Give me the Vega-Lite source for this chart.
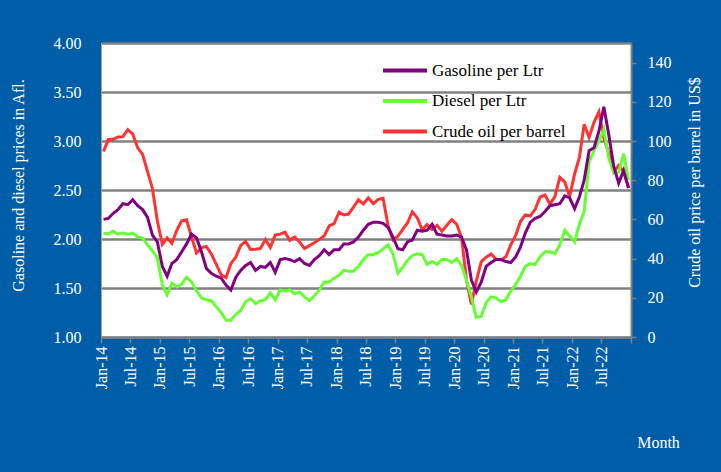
{
"$schema": "https://vega.github.io/schema/vega-lite/v6.json",
"width": 530, "height": 294,
"autosize": {"type": "none"},
"padding": {"left": 101, "top": 43, "right": 90, "bottom": 135},
"background": "#005EA8",
"config": {"view": {"fill": "white", "stroke": null}, "font": "Liberation Serif"},
"data": {"values": [
{"date":"2014-01-01","Gasoline per Ltr":2.20,"Diesel per Ltr":2.06,"Crude oil per barrel":94.62},
{"date":"2014-02-01","Gasoline per Ltr":2.21,"Diesel per Ltr":2.05,"Crude oil per barrel":100.82},
{"date":"2014-03-01","Gasoline per Ltr":2.26,"Diesel per Ltr":2.08,"Crude oil per barrel":100.80},
{"date":"2014-04-01","Gasoline per Ltr":2.30,"Diesel per Ltr":2.05,"Crude oil per barrel":102.07},
{"date":"2014-05-01","Gasoline per Ltr":2.36,"Diesel per Ltr":2.06,"Crude oil per barrel":102.18},
{"date":"2014-06-01","Gasoline per Ltr":2.35,"Diesel per Ltr":2.05,"Crude oil per barrel":105.79},
{"date":"2014-07-01","Gasoline per Ltr":2.40,"Diesel per Ltr":2.06,"Crude oil per barrel":103.59},
{"date":"2014-08-01","Gasoline per Ltr":2.34,"Diesel per Ltr":2.02,"Crude oil per barrel":96.54},
{"date":"2014-09-01","Gasoline per Ltr":2.30,"Diesel per Ltr":2.01,"Crude oil per barrel":93.21},
{"date":"2014-10-01","Gasoline per Ltr":2.22,"Diesel per Ltr":1.94,"Crude oil per barrel":84.40},
{"date":"2014-11-01","Gasoline per Ltr":2.04,"Diesel per Ltr":1.88,"Crude oil per barrel":75.79},
{"date":"2014-12-01","Gasoline per Ltr":1.97,"Diesel per Ltr":1.81,"Crude oil per barrel":59.29},
{"date":"2015-01-01","Gasoline per Ltr":1.72,"Diesel per Ltr":1.53,"Crude oil per barrel":47.22},
{"date":"2015-02-01","Gasoline per Ltr":1.62,"Diesel per Ltr":1.43,"Crude oil per barrel":50.58},
{"date":"2015-03-01","Gasoline per Ltr":1.75,"Diesel per Ltr":1.55,"Crude oil per barrel":47.82},
{"date":"2015-04-01","Gasoline per Ltr":1.79,"Diesel per Ltr":1.51,"Crude oil per barrel":54.45},
{"date":"2015-05-01","Gasoline per Ltr":1.87,"Diesel per Ltr":1.54,"Crude oil per barrel":59.27},
{"date":"2015-06-01","Gasoline per Ltr":1.95,"Diesel per Ltr":1.61,"Crude oil per barrel":59.82},
{"date":"2015-07-01","Gasoline per Ltr":2.05,"Diesel per Ltr":1.56,"Crude oil per barrel":50.90},
{"date":"2015-08-01","Gasoline per Ltr":2.01,"Diesel per Ltr":1.47,"Crude oil per barrel":42.87},
{"date":"2015-09-01","Gasoline per Ltr":1.87,"Diesel per Ltr":1.40,"Crude oil per barrel":45.48},
{"date":"2015-10-01","Gasoline per Ltr":1.70,"Diesel per Ltr":1.38,"Crude oil per barrel":46.22},
{"date":"2015-11-01","Gasoline per Ltr":1.65,"Diesel per Ltr":1.37,"Crude oil per barrel":42.44},
{"date":"2015-12-01","Gasoline per Ltr":1.62,"Diesel per Ltr":1.31,"Crude oil per barrel":37.19},
{"date":"2016-01-01","Gasoline per Ltr":1.60,"Diesel per Ltr":1.25,"Crude oil per barrel":31.68},
{"date":"2016-02-01","Gasoline per Ltr":1.53,"Diesel per Ltr":1.17,"Crude oil per barrel":30.32},
{"date":"2016-03-01","Gasoline per Ltr":1.48,"Diesel per Ltr":1.17,"Crude oil per barrel":37.55},
{"date":"2016-04-01","Gasoline per Ltr":1.61,"Diesel per Ltr":1.23,"Crude oil per barrel":40.75},
{"date":"2016-05-01","Gasoline per Ltr":1.68,"Diesel per Ltr":1.27,"Crude oil per barrel":46.71},
{"date":"2016-06-01","Gasoline per Ltr":1.73,"Diesel per Ltr":1.36,"Crude oil per barrel":48.76},
{"date":"2016-07-01","Gasoline per Ltr":1.76,"Diesel per Ltr":1.39,"Crude oil per barrel":44.65},
{"date":"2016-08-01","Gasoline per Ltr":1.68,"Diesel per Ltr":1.34,"Crude oil per barrel":44.72},
{"date":"2016-09-01","Gasoline per Ltr":1.72,"Diesel per Ltr":1.37,"Crude oil per barrel":45.18},
{"date":"2016-10-01","Gasoline per Ltr":1.71,"Diesel per Ltr":1.38,"Crude oil per barrel":49.78},
{"date":"2016-11-01","Gasoline per Ltr":1.76,"Diesel per Ltr":1.45,"Crude oil per barrel":45.66},
{"date":"2016-12-01","Gasoline per Ltr":1.66,"Diesel per Ltr":1.38,"Crude oil per barrel":51.97},
{"date":"2017-01-01","Gasoline per Ltr":1.79,"Diesel per Ltr":1.48,"Crude oil per barrel":52.50},
{"date":"2017-02-01","Gasoline per Ltr":1.80,"Diesel per Ltr":1.47,"Crude oil per barrel":53.47},
{"date":"2017-03-01","Gasoline per Ltr":1.79,"Diesel per Ltr":1.48,"Crude oil per barrel":49.33},
{"date":"2017-04-01","Gasoline per Ltr":1.77,"Diesel per Ltr":1.44,"Crude oil per barrel":51.06},
{"date":"2017-05-01","Gasoline per Ltr":1.80,"Diesel per Ltr":1.46,"Crude oil per barrel":48.48},
{"date":"2017-06-01","Gasoline per Ltr":1.75,"Diesel per Ltr":1.41,"Crude oil per barrel":45.18},
{"date":"2017-07-01","Gasoline per Ltr":1.73,"Diesel per Ltr":1.37,"Crude oil per barrel":46.63},
{"date":"2017-08-01","Gasoline per Ltr":1.79,"Diesel per Ltr":1.42,"Crude oil per barrel":48.04},
{"date":"2017-09-01","Gasoline per Ltr":1.83,"Diesel per Ltr":1.48,"Crude oil per barrel":49.82},
{"date":"2017-10-01","Gasoline per Ltr":1.89,"Diesel per Ltr":1.56,"Crude oil per barrel":51.58},
{"date":"2017-11-01","Gasoline per Ltr":1.84,"Diesel per Ltr":1.56,"Crude oil per barrel":56.64},
{"date":"2017-12-01","Gasoline per Ltr":1.89,"Diesel per Ltr":1.60,"Crude oil per barrel":57.88},
{"date":"2018-01-01","Gasoline per Ltr":1.89,"Diesel per Ltr":1.63,"Crude oil per barrel":63.70},
{"date":"2018-02-01","Gasoline per Ltr":1.95,"Diesel per Ltr":1.68,"Crude oil per barrel":62.23},
{"date":"2018-03-01","Gasoline per Ltr":1.95,"Diesel per Ltr":1.67,"Crude oil per barrel":62.73},
{"date":"2018-04-01","Gasoline per Ltr":1.97,"Diesel per Ltr":1.67,"Crude oil per barrel":66.25},
{"date":"2018-05-01","Gasoline per Ltr":2.02,"Diesel per Ltr":1.72,"Crude oil per barrel":69.98},
{"date":"2018-06-01","Gasoline per Ltr":2.09,"Diesel per Ltr":1.79,"Crude oil per barrel":67.87},
{"date":"2018-07-01","Gasoline per Ltr":2.15,"Diesel per Ltr":1.84,"Crude oil per barrel":70.98},
{"date":"2018-08-01","Gasoline per Ltr":2.17,"Diesel per Ltr":1.84,"Crude oil per barrel":68.06},
{"date":"2018-09-01","Gasoline per Ltr":2.17,"Diesel per Ltr":1.86,"Crude oil per barrel":70.23},
{"date":"2018-10-01","Gasoline per Ltr":2.16,"Diesel per Ltr":1.90,"Crude oil per barrel":70.75},
{"date":"2018-11-01","Gasoline per Ltr":2.12,"Diesel per Ltr":1.94,"Crude oil per barrel":56.96},
{"date":"2018-12-01","Gasoline per Ltr":2.02,"Diesel per Ltr":1.85,"Crude oil per barrel":49.52},
{"date":"2019-01-01","Gasoline per Ltr":1.90,"Diesel per Ltr":1.65,"Crude oil per barrel":51.38},
{"date":"2019-02-01","Gasoline per Ltr":1.89,"Diesel per Ltr":1.71,"Crude oil per barrel":54.95},
{"date":"2019-03-01","Gasoline per Ltr":1.97,"Diesel per Ltr":1.78,"Crude oil per barrel":58.15},
{"date":"2019-04-01","Gasoline per Ltr":1.99,"Diesel per Ltr":1.83,"Crude oil per barrel":63.86},
{"date":"2019-05-01","Gasoline per Ltr":2.09,"Diesel per Ltr":1.85,"Crude oil per barrel":60.83},
{"date":"2019-06-01","Gasoline per Ltr":2.08,"Diesel per Ltr":1.84,"Crude oil per barrel":54.66},
{"date":"2019-07-01","Gasoline per Ltr":2.09,"Diesel per Ltr":1.74,"Crude oil per barrel":57.35},
{"date":"2019-08-01","Gasoline per Ltr":2.15,"Diesel per Ltr":1.77,"Crude oil per barrel":54.81},
{"date":"2019-09-01","Gasoline per Ltr":2.05,"Diesel per Ltr":1.74,"Crude oil per barrel":56.95},
{"date":"2019-10-01","Gasoline per Ltr":2.04,"Diesel per Ltr":1.79,"Crude oil per barrel":53.96},
{"date":"2019-11-01","Gasoline per Ltr":2.03,"Diesel per Ltr":1.79,"Crude oil per barrel":57.03},
{"date":"2019-12-01","Gasoline per Ltr":2.03,"Diesel per Ltr":1.76,"Crude oil per barrel":59.88},
{"date":"2020-01-01","Gasoline per Ltr":2.04,"Diesel per Ltr":1.80,"Crude oil per barrel":57.52},
{"date":"2020-02-01","Gasoline per Ltr":2.02,"Diesel per Ltr":1.73,"Crude oil per barrel":50.54},
{"date":"2020-03-01","Gasoline per Ltr":1.89,"Diesel per Ltr":1.58,"Crude oil per barrel":29.21},
{"date":"2020-04-01","Gasoline per Ltr":1.58,"Diesel per Ltr":1.41,"Crude oil per barrel":16.55},
{"date":"2020-05-01","Gasoline per Ltr":1.46,"Diesel per Ltr":1.20,"Crude oil per barrel":28.56},
{"date":"2020-06-01","Gasoline per Ltr":1.56,"Diesel per Ltr":1.21,"Crude oil per barrel":38.31},
{"date":"2020-07-01","Gasoline per Ltr":1.72,"Diesel per Ltr":1.35,"Crude oil per barrel":40.71},
{"date":"2020-08-01","Gasoline per Ltr":1.76,"Diesel per Ltr":1.41,"Crude oil per barrel":42.34},
{"date":"2020-09-01","Gasoline per Ltr":1.79,"Diesel per Ltr":1.40,"Crude oil per barrel":39.63},
{"date":"2020-10-01","Gasoline per Ltr":1.79,"Diesel per Ltr":1.36,"Crude oil per barrel":39.40},
{"date":"2020-11-01","Gasoline per Ltr":1.77,"Diesel per Ltr":1.38,"Crude oil per barrel":40.94},
{"date":"2020-12-01","Gasoline per Ltr":1.76,"Diesel per Ltr":1.47,"Crude oil per barrel":47.02},
{"date":"2021-01-01","Gasoline per Ltr":1.82,"Diesel per Ltr":1.54,"Crude oil per barrel":52.00},
{"date":"2021-02-01","Gasoline per Ltr":1.92,"Diesel per Ltr":1.62,"Crude oil per barrel":59.04},
{"date":"2021-03-01","Gasoline per Ltr":2.06,"Diesel per Ltr":1.72,"Crude oil per barrel":62.33},
{"date":"2021-04-01","Gasoline per Ltr":2.17,"Diesel per Ltr":1.75,"Crude oil per barrel":61.72},
{"date":"2021-05-01","Gasoline per Ltr":2.21,"Diesel per Ltr":1.74,"Crude oil per barrel":65.17},
{"date":"2021-06-01","Gasoline per Ltr":2.23,"Diesel per Ltr":1.82,"Crude oil per barrel":71.38},
{"date":"2021-07-01","Gasoline per Ltr":2.28,"Diesel per Ltr":1.87,"Crude oil per barrel":72.49},
{"date":"2021-08-01","Gasoline per Ltr":2.34,"Diesel per Ltr":1.87,"Crude oil per barrel":67.73},
{"date":"2021-09-01","Gasoline per Ltr":2.35,"Diesel per Ltr":1.85,"Crude oil per barrel":71.65},
{"date":"2021-10-01","Gasoline per Ltr":2.36,"Diesel per Ltr":1.94,"Crude oil per barrel":81.48},
{"date":"2021-11-01","Gasoline per Ltr":2.44,"Diesel per Ltr":2.09,"Crude oil per barrel":79.15},
{"date":"2021-12-01","Gasoline per Ltr":2.42,"Diesel per Ltr":2.03,"Crude oil per barrel":71.71},
{"date":"2022-01-01","Gasoline per Ltr":2.31,"Diesel per Ltr":1.97,"Crude oil per barrel":83.22},
{"date":"2022-02-01","Gasoline per Ltr":2.43,"Diesel per Ltr":2.15,"Crude oil per barrel":91.64},
{"date":"2022-03-01","Gasoline per Ltr":2.60,"Diesel per Ltr":2.28,"Crude oil per barrel":108.50},
{"date":"2022-04-01","Gasoline per Ltr":2.90,"Diesel per Ltr":2.79,"Crude oil per barrel":101.78},
{"date":"2022-05-01","Gasoline per Ltr":2.93,"Diesel per Ltr":2.90,"Crude oil per barrel":109.55},
{"date":"2022-06-01","Gasoline per Ltr":3.10,"Diesel per Ltr":3.00,"Crude oil per barrel":114.84},
{"date":"2022-07-01","Gasoline per Ltr":3.35,"Diesel per Ltr":3.12,"Crude oil per barrel":101.62},
{"date":"2022-08-01","Gasoline per Ltr":3.06,"Diesel per Ltr":2.82,"Crude oil per barrel":93.67},
{"date":"2022-09-01","Gasoline per Ltr":2.74,"Diesel per Ltr":2.68,"Crude oil per barrel":84.26},
{"date":"2022-10-01","Gasoline per Ltr":2.57,"Diesel per Ltr":2.68,"Crude oil per barrel":87.55},
{"date":"2022-11-01","Gasoline per Ltr":2.70,"Diesel per Ltr":2.87,"Crude oil per barrel":84.37},
{"date":"2022-12-01","Gasoline per Ltr":2.52,"Diesel per Ltr":2.60,"Crude oil per barrel":76.44}
]},
"encoding": {
  "x": {
    "field": "date", "timeUnit": "utcyearmonth", "type": "temporal", "bandPosition": 0.5,
    "scale": {"domain": [{"year": 2014, "month": 1, "date": 1, "utc": true}, {"year": 2023, "month": 1, "date": 1, "utc": true}]},
    "axis": {
      "values": [
        {"year":2014,"month":1,"date":1,"utc":true},{"year":2014,"month":7,"date":1,"utc":true},
        {"year":2015,"month":1,"date":1,"utc":true},{"year":2015,"month":7,"date":1,"utc":true},
        {"year":2016,"month":1,"date":1,"utc":true},{"year":2016,"month":7,"date":1,"utc":true},
        {"year":2017,"month":1,"date":1,"utc":true},{"year":2017,"month":7,"date":1,"utc":true},
        {"year":2018,"month":1,"date":1,"utc":true},{"year":2018,"month":7,"date":1,"utc":true},
        {"year":2019,"month":1,"date":1,"utc":true},{"year":2019,"month":7,"date":1,"utc":true},
        {"year":2020,"month":1,"date":1,"utc":true},{"year":2020,"month":7,"date":1,"utc":true},
        {"year":2021,"month":1,"date":1,"utc":true},{"year":2021,"month":7,"date":1,"utc":true},
        {"year":2022,"month":1,"date":1,"utc":true},{"year":2022,"month":7,"date":1,"utc":true},
        {"year":2023,"month":1,"date":1,"utc":true}
      ],
      "labelExpr": "utcyear(datum.value) > 2022 ? '' : utcFormat(datum.value, '%b-%y')",
      "labelAngle": 270, "labelAlign": "right", "labelBaseline": "middle",
      "labelPadding": 3, "labelColor": "white", "labelFontSize": 16, "labelFont": "Liberation Serif",
      "labelOverlap": false, "labelFlush": false,
      "tickSize": 6, "tickColor": "#808080", "tickWidth": 1.5,
      "domainColor": "#808080", "domainWidth": 2, "grid": false,
      "title": "Month", "titleColor": "white", "titleFontSize": 16, "titleFontWeight": "normal", "titleFont": "Liberation Serif",
      "titleX": 557, "titleY": 105, "titleAlign": "center", "titleBaseline": "middle", "titleAngle": 0
    }
  }
},
"layer": [
  {
    "transform": [{"fold": ["Crude oil per barrel"], "as": ["series", "value"]}],
    "mark": {"type": "line", "strokeWidth": 3},
    "encoding": {
      "y": {"field": "value", "type": "quantitative", "scale": {"domain": [0, 150], "nice": false},
        "axis": {"orient": "right", "values": [0,20,40,60,80,100,120,140], "grid": false,
          "tickSize": 5, "tickColor": "#808080", "tickWidth": 1.5, "domainColor": "#808080", "domainWidth": 2,
          "labelColor": "white", "labelFontSize": 16, "labelFont": "Liberation Serif", "labelPadding": 11,
          "title": "Crude oil price per barrel in US$", "titleColor": "white", "titleFontSize": 16,
          "titleFontWeight": "normal", "titleFont": "Liberation Serif", "titleAngle": 270,
          "titleX": 63, "titleY": 139, "titleAlign": "center", "titleBaseline": "middle"}},
      "color": {"field": "series", "type": "nominal",
        "scale": {"domain": ["Gasoline per Ltr", "Diesel per Ltr", "Crude oil per barrel"], "range": ["#800080", "#66FF33", "#FF3333"]}}
    }
  },
  {
    "transform": [{"fold": ["Diesel per Ltr", "Gasoline per Ltr"], "as": ["series", "value"]}],
    "mark": {"type": "line", "strokeWidth": 3},
    "encoding": {
      "y": {"field": "value", "type": "quantitative", "scale": {"domain": [1, 4], "nice": false},
        "axis": {"orient": "left", "values": [1,1.5,2,2.5,3,3.5,4], "format": ".2f", "grid": true,
          "gridColor": "#808080", "gridWidth": 2.5, "ticks": false, "tickSize": 0,
          "domainColor": "#a0a0a0", "domainWidth": 1,
          "labelColor": "white", "labelFontSize": 16, "labelFont": "Liberation Serif", "labelPadding": 20,
          "title": "Gasoline  and diesel prices in Afl.", "titleColor": "white", "titleFontSize": 16,
          "titleFontWeight": "normal", "titleFont": "Liberation Serif", "titleAngle": 270,
          "titleX": -83, "titleY": 142, "titleAlign": "center", "titleBaseline": "middle"}},
      "color": {"field": "series", "type": "nominal",
        "scale": {"domain": ["Gasoline per Ltr", "Diesel per Ltr", "Crude oil per barrel"], "range": ["#800080", "#66FF33", "#FF3333"]},
        "legend": {"orient": "none", "legendX": 280, "legendY": 19, "title": null, "padding": 0,
          "symbolType": "stroke", "symbolSize": 1936, "symbolStrokeWidth": 4,
          "labelFontSize": 17, "labelFont": "Liberation Serif", "labelColor": "black", "labelOffset": 3,
          "rowPadding": 12.5, "clipHeight": 17}},
      "order": {"field": "series", "sort": "ascending"}
    }
  }
],
"resolve": {"scale": {"y": "independent"}}
}
